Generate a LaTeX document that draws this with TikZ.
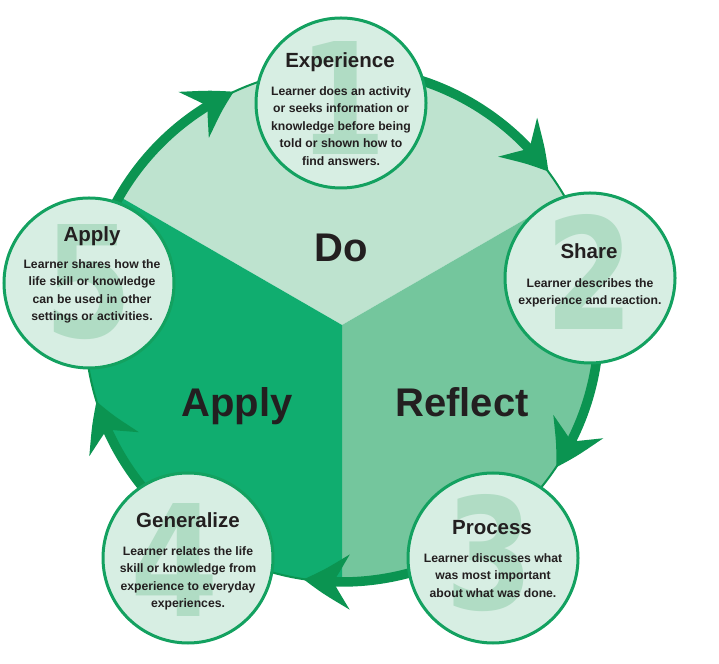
\documentclass[tikz,border=0pt]{standalone}
\usepackage{graphicx}
\usepackage{fontspec}
\setmainfont{Liberation Sans}
\newfontfamily\numfont{DejaVu Sans}
\usetikzlibrary{arrows.meta,bending}
\definecolor{doc}{HTML}{BEE3CF}
\definecolor{refc}{HTML}{74C69D}
\definecolor{appc}{HTML}{10AD6F}
\definecolor{ringc}{HTML}{0B9451}
\definecolor{circf}{HTML}{D7EEE3}
\definecolor{circs}{HTML}{13A160}
\definecolor{numc}{HTML}{B0DCC4}
\definecolor{txt}{HTML}{231F20}
\begin{document}
\begin{tikzpicture}[x=1pt,y=1pt,
  ring/.style={draw=ringc, line width=9.5pt, -{Stealth[length=46pt,width=54pt,inset=16pt,bend]}},
  smallc/.style={circle, fill=circf, draw=circs, line width=3pt, minimum size=170pt, inner sep=0pt},
  numst/.style={font=\numfont\bfseries\fontsize{155}{155}\selectfont, text=numc, inner sep=0pt, anchor=base},
  head/.style={font=\bfseries\fontsize{20.5}{22}\selectfont, text=txt, inner sep=0pt, anchor=base},
  body/.style={font=\bfseries\fontsize{12.2}{17.5}\selectfont, text=txt, inner sep=0pt, align=center, anchor=north},
  big/.style={font=\bfseries\fontsize{40}{42}\selectfont, text=txt, inner sep=0pt, anchor=base}]
\useasboundingbox (0,0) rectangle (719,663);
\coordinate (O) at (342,338);
% sectors
\fill[doc] (O) -- ([shift={(30:257)}]O) arc[start angle=30, end angle=150, radius=257] -- cycle;
\fill[refc] (O) -- ([shift={(-90:257)}]O) arc[start angle=-90, end angle=30, radius=257] -- cycle;
\fill[appc] (O) -- ([shift={(150:257)}]O) arc[start angle=150, end angle=270, radius=257] -- cycle;
\draw[ringc, line width=2pt] (O) circle[radius=257];
% cycle arcs
\draw[ring] ([shift={(170.6:257)}]O) arc[start angle=170.6, end angle=114.9, radius=257];
\draw[ring] ([shift={(88:257)}]O) arc[start angle=88, end angle=36.6, radius=257];
\draw[ring] ([shift={(10:257)}]O) arc[start angle=10, end angle=-33.6, radius=257];
\draw[ring] ([shift={(-57:257)}]O) arc[start angle=-57, end angle=-98.6, radius=257];
\draw[ring] ([shift={(236.5:257)}]O) arc[start angle=236.5, end angle=197.3, radius=257];
% big labels
\node[big] (ldo) at (341,401) {Do};
\node[big] (lapply) at (237,246) {Apply};
\node[big] (lreflect) at (462,246) {Reflect};
% small circles
\node[smallc] (n1) at (341,560) {};
\node[smallc] (n2) at (590,385) {};
\node[smallc] (n5) at (89,380) {};
\node[smallc] (n3) at (493,105) {};
\node[smallc] (n4) at (188,105) {};
% numbers
\node[numst] (d1) at (343,508) {\scalebox{0.82}[1]{1}};
\node[numst] (d2) at (590,333) {\scalebox{0.82}[1]{2}};
\node[numst] (d5) at (89,325) {\scalebox{0.82}[1]{5}};
\node[numst] (d3) at (490,53) {\scalebox{0.82}[1]{3}};
\node[numst] (d4) at (175,46) {\scalebox{0.82}[1]{4}};
% headings
\node[head] (h1) at (340,595) {Experience};
\node[head] (h2) at (589,404) {Share};
\node[head] (h5) at (92,421) {Apply};
\node[head] (h3) at (492,128) {Process};
\node[head] (h4) at (188,135) {Generalize};
% bodies
\node[body] (b1) at (341,577) {Learner does an activity\\or seeks information or\\knowledge before being\\told or shown how to\\find answers.};
\node[body] (b2) at (590,385) {Learner describes the\\experience and reaction.};
\node[body] (b5) at (92,404) {Learner shares how the\\life skill or knowledge\\can be used in other\\settings or activities.};
\node[body] (b3) at (493,110) {Learner discusses what\\was most important\\about what was done.};
\node[body] (b4) at (188,117) {Learner relates the life\\skill or knowledge from\\experience to everyday\\experiences.};
\end{tikzpicture}
\end{document}
